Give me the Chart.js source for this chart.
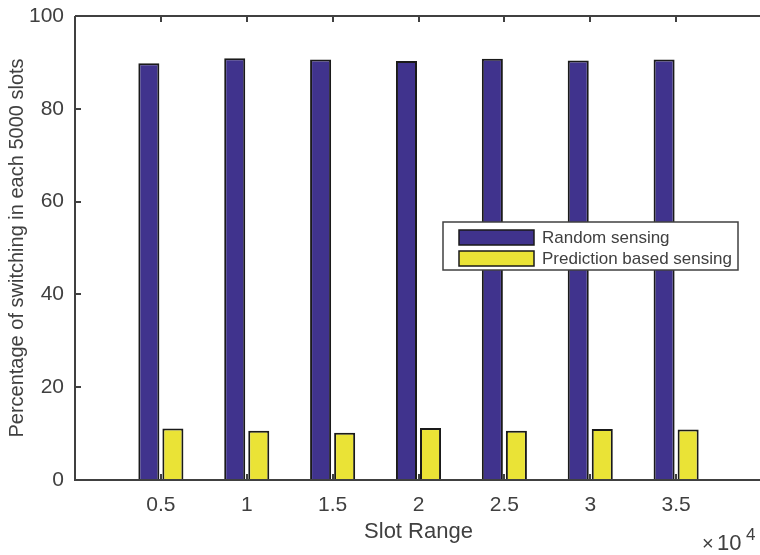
<!DOCTYPE html>
<html>
<head>
<meta charset="utf-8">
<script src="https://cdn.jsdelivr.net/npm/chart.js@4.4.1/dist/chart.umd.min.js"></script>
<style>
  html, body { margin: 0; padding: 0; background: #fff; }
  #wrap { width: 760px; height: 555px; overflow: hidden; }
</style>
</head>
<body>
<div id="wrap"><canvas id="chart" width="770" height="555"></canvas></div>
<script>
// slot range positions (x 10^4) and switching percentages
const slotRange = [0.5, 1, 1.5, 2, 2.5, 3, 3.5];
const randomSensing = [89.8, 90.9, 90.6, 90.3, 90.8, 90.4, 90.6];
const predictionSensing = [11.1, 10.6, 10.2, 11.2, 10.6, 11.0, 10.9];
const yTicks = [0, 20, 40, 60, 80, 100];

const axisColor = '#404040';
const textColor = '#404040';
const fontFamily = '"Liberation Sans", Arial, sans-serif';

// frame, inward ticks, legend box and the x10^4 exponent (MATLAB look)
const matlabFrame = {
  id: 'matlabFrame',
  afterDraw(chart) {
    const ctx = chart.ctx;
    const area = chart.chartArea;
    const xs = chart.scales.x;
    const ys = chart.scales.y;
    ctx.save();
    ctx.strokeStyle = axisColor;
    ctx.lineWidth = 2;
    ctx.beginPath();
    ctx.moveTo(area.left, area.top);
    ctx.lineTo(area.right, area.top);
    ctx.moveTo(area.left, area.top);
    ctx.lineTo(area.left, area.bottom);
    ctx.lineTo(area.right, area.bottom);
    ctx.stroke();

    ctx.beginPath();
    slotRange.forEach(v => {
      const px = Math.round(xs.getPixelForValue(v));
      ctx.moveTo(px, area.bottom);
      ctx.lineTo(px, area.bottom - 6);
      ctx.moveTo(px, area.top);
      ctx.lineTo(px, area.top + 6);
    });
    yTicks.forEach(v => {
      const py = Math.round(ys.getPixelForValue(v));
      ctx.moveTo(area.left, py);
      ctx.lineTo(area.left + 6, py);
    });
    ctx.stroke();

    // legend
    const lx = 443, ly = 222, lw = 295, lh = 48;
    ctx.fillStyle = '#fff';
    ctx.fillRect(lx, ly, lw, lh);
    ctx.strokeStyle = axisColor;
    ctx.lineWidth = 1.5;
    ctx.strokeRect(lx, ly, lw, lh);
    ctx.font = '17px ' + fontFamily;
    ctx.textBaseline = 'middle';
    chart.data.datasets.forEach((ds, i) => {
      const cy = ly + 15 + i * 21;
      ctx.fillStyle = ds.backgroundColor;
      ctx.fillRect(459, cy - 7, 75, 15);
      ctx.strokeStyle = '#1a1a1a';
      ctx.lineWidth = 1.5;
      ctx.strokeRect(459, cy - 7, 75, 15);
      ctx.fillStyle = textColor;
      ctx.fillText(ds.label, 542, cy + 1);
    });

    // exponent label
    ctx.fillStyle = textColor;
    ctx.textBaseline = 'alphabetic';
    ctx.font = '20px ' + fontFamily;
    ctx.fillText('\u00d7', 702, 550);
    ctx.font = '22px ' + fontFamily;
    ctx.fillText('10', 717, 550);
    ctx.font = '17px ' + fontFamily;
    ctx.fillText('4', 746, 540);
    ctx.restore();
  }
};

const ctx = document.getElementById('chart').getContext('2d');
new Chart(ctx, {
  type: 'bar',
  data: {
    datasets: [
      {
        label: 'Random sensing',
        data: slotRange.map((x, i) => ({ x: x, y: randomSensing[i] })),
        backgroundColor: '#40338d',
        borderColor: '#1a1a1a',
        borderWidth: 2
      },
      {
        label: 'Prediction based sensing',
        data: slotRange.map((x, i) => ({ x: x, y: predictionSensing[i] })),
        backgroundColor: '#eae336',
        borderColor: '#1a1a1a',
        borderWidth: 2
      }
    ]
  },
  options: {
    responsive: false,
    animation: false,
    devicePixelRatio: 1,
    categoryPercentage: 0.56,
    barPercentage: 0.875,
    layout: { padding: { top: 16, right: 8, left: 0, bottom: 0 } },
    plugins: {
      legend: { display: false },
      tooltip: { enabled: false }
    },
    scales: {
      x: {
        type: 'linear',
        offset: false,
        min: 0,
        max: 4,
        grid: { display: false, drawTicks: false },
        border: { display: false },
        afterBuildTicks: scale => { scale.ticks = slotRange.map(v => ({ value: v })); },
        afterFit: scale => {
          scale.height = 75;
          scale.paddingLeft = 0;
          scale.paddingRight = 0;
        },
        ticks: {
          color: textColor,
          padding: 13,
          font: { family: fontFamily, size: 21 },
          callback: v => String(v)
        },
        title: {
          display: true,
          text: 'Slot Range',
          color: textColor,
          font: { family: fontFamily, size: 22 },
          padding: { top: 0, bottom: 10 }
        }
      },
      y: {
        min: 0,
        max: 100,
        grid: { display: false, drawTicks: false },
        border: { display: false },
        afterBuildTicks: scale => { scale.ticks = yTicks.map(v => ({ value: v })); },
        afterFit: scale => {
          scale.width = 75;
          scale.paddingTop = 0;
          scale.paddingBottom = 0;
        },
        ticks: {
          color: textColor,
          padding: 11,
          font: { family: fontFamily, size: 21 }
        },
        title: {
          display: true,
          text: 'Percentage of switching in each 5000 slots',
          color: textColor,
          font: { family: fontFamily, size: 20 },
          padding: { top: 5, bottom: 0 }
        }
      }
    }
  },
  plugins: [matlabFrame]
});
</script>
</body>
</html>
